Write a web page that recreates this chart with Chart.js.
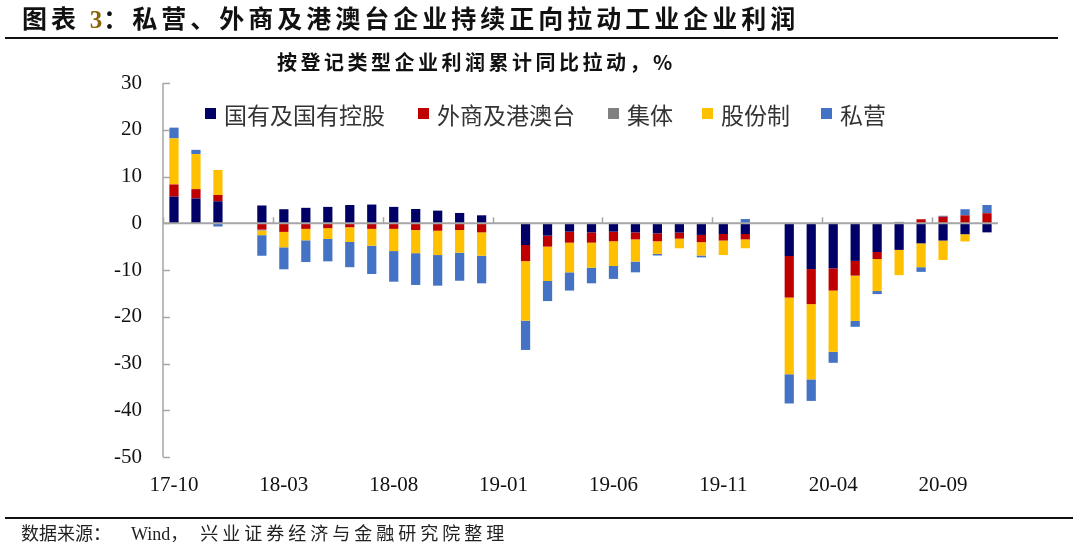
<!DOCTYPE html>
<html>
<head>
<meta charset="utf-8">
<script src="https://cdn.jsdelivr.net/npm/chart.js@4.4.1/dist/chart.umd.min.js"></script>
<style>
  html, body { margin: 0; padding: 0; background: #fff; }
  #wrap { position: relative; width: 1080px; height: 549px; overflow: hidden; background: #fff; }
  #c { position: absolute; left: 0; top: 0; }
  .abs { position: absolute; white-space: nowrap; }
  #title { left: 22px; top: 1px; font-family: "Noto Sans CJK SC", sans-serif; font-weight: 700; font-size: 25px; letter-spacing: 4px; color: #111; line-height: 32px; }
  #title .num { font-family: "Liberation Serif", serif; color: #8B6508; letter-spacing: 1px; }
  #tline { left: 5px; top: 37px; width: 1053px; height: 2px; background: #111; }
  #sub { left: 277px; top: 49px; font-family: "Noto Sans CJK SC", sans-serif; font-weight: 700; font-size: 20px; letter-spacing: 3.5px; color: #111; line-height: 26px; }
  #bline { left: 5px; top: 517px; width: 1068px; height: 2px; background: #111; }
  #foot { left: 21px; top: 519px; font-family: "Liberation Serif", "Noto Sans CJK SC", serif; font-size: 18px; color: #222; line-height: 26px; }
  #foot .cn1 { font-family: "Noto Sans CJK SC", sans-serif; }
  #foot .cn2 { font-family: "Noto Sans CJK SC", sans-serif; letter-spacing: 4px; }
  .lg { position: absolute; top: 100px; height: 28px; font-family: "Noto Sans CJK SC", sans-serif; font-size: 23px; color: #333; line-height: 28px; white-space: nowrap; }
  .sq { position: absolute; width: 11px; height: 11px; top: 8px; }
</style>
</head>
<body>
<div id="wrap">
  <canvas id="c" width="1080" height="549"></canvas>
  <div id="title" class="abs">图表 <span class="num">3</span>：私营、外商及港澳台企业持续正向拉动工业企业利润</div>
  <div id="tline" class="abs"></div>
  <div id="sub" class="abs">按登记类型企业利润累计同比拉动，%</div>
  <div id="legend"></div>
  <div id="bline" class="abs"></div>
  <div id="foot" class="abs"><span class="cn1">数据来源：</span><span style="margin-left:20px">Wind</span><span class="cn1">，</span><span class="cn2" style="margin-left:12px">兴业证券经济与金融研究院整理</span></div>
</div>
<script>
// ---- Data ----
const categories = [
  '17-10','17-11','17-12',
  '18-01','18-02','18-03','18-04','18-05','18-06','18-07','18-08','18-09','18-10','18-11','18-12',
  '19-01','19-02','19-03','19-04','19-05','19-06','19-07','19-08','19-09','19-10','19-11','19-12',
  '20-01','20-02','20-03','20-04','20-05','20-06','20-07','20-08','20-09','20-10','20-11'
];
const xTickLabels = ['17-10','18-03','18-08','19-01','19-06','19-11','20-04','20-09'];
const yTickValues = [30, 20, 10, 0, -10, -20, -30, -40, -50];

const seriesNames = ['国有及国有控股', '外商及港澳台', '集体', '股份制', '私营'];

const stateOwned = [5.7,5.3,4.7, null,3.8,3.0,3.3,3.5,3.9,4.0,3.5,3.05,2.7,2.2,1.7,
  null,-4.65,-2.65,-1.8,-1.95,-1.8,-1.95,-2.15,-2.0,-2.5,-2.3,-2.3,
  null,-7.0,-9.8,-9.65,-8.05,-6.15,-5.7,-4.3,-3.7,-2.35,-1.95];
const foreignHKMT = [2.6,2.0,1.35, null,-1.35,-1.85,-1.2,-1.05,-0.85,-1.2,-1.2,-1.45,-1.6,-1.45,-1.95,
  null,-3.45,-2.35,-2.35,-2.2,-2.05,-1.5,-1.7,-1.3,-1.55,-1.4,-1.15,
  null,-8.9,-7.5,-4.75,-3.15,-1.5,0,0.85,1.4,1.7,2.15];
const collective = [0,0,0, null,-0.2,0,0,0,0,0,0,0,0,0,0,
  null,0,0,0,0,0,0,0,0,0,0,0,
  null,0,0,0,0,0,0.3,0,0,0,0];
const jointStock = [9.85,7.5,5.35, null,-1.0,-3.3,-2.45,-2.3,-3.15,-3.6,-4.75,-4.95,-5.2,-4.85,-5.0,
  null,-12.75,-7.35,-6.35,-5.35,-5.3,-4.75,-2.7,-2.05,-2.85,-3.1,-1.9,
  null,-16.4,-16.1,-13.1,-9.7,-6.85,-5.4,-5.1,-4.15,-1.55,0];
const privateEnt = [2.3,0.9,-0.7, null,-4.4,-4.7,-4.65,-4.8,-5.4,-6.05,-6.55,-6.8,-6.55,-6.0,-5.9,
  null,-6.25,-4.3,-3.9,-3.35,-2.75,-2.3,-0.35,0,-0.4,0,0.9,
  null,-6.25,-4.6,-2.35,-1.25,-0.65,0,-1.0,0.2,1.3,1.75];

const colors = ['#000066', '#C00000', '#808080', '#FFC000', '#4472C4'];
const seriesData = [stateOwned, foreignHKMT, collective, jointStock, privateEnt];

// ---- Legend (HTML) ----
const legendX = [205, 418, 608, 702, 821];
const legendEl = document.getElementById('legend');
seriesNames.forEach((n, i) => {
  const d = document.createElement('div');
  d.className = 'lg';
  d.style.left = legendX[i] + 'px';
  d.innerHTML = '<span class="sq" style="left:0;background:' + colors[i] + '"></span><span style="margin-left:19px">' + n + '</span>';
  legendEl.appendChild(d);
});

// ---- Chart ----
const AXIS = '#A6A6A6';
const axisPlugin = {
  id: 'axisPlugin',
  afterDatasetsDraw(chart) {
    const ctx = chart.ctx;
    const xs = chart.scales.x, ys = chart.scales.y;
    const y0 = ys.getPixelForValue(0);
    const left = chart.chartArea.left, right = chart.chartArea.right;
    ctx.save();
    ctx.strokeStyle = AXIS;
    ctx.lineWidth = 2;
    ctx.beginPath(); ctx.moveTo(left, y0); ctx.lineTo(right, y0); ctx.stroke();
    ctx.lineWidth = 1.5;
    ctx.beginPath(); ctx.moveTo(left, ys.getPixelForValue(30)); ctx.lineTo(left, ys.getPixelForValue(-50)); ctx.stroke();
    yTickValues.forEach(v => {
      const py = Math.round(ys.getPixelForValue(v)) + 0.5;
      ctx.beginPath(); ctx.moveTo(left, py); ctx.lineTo(left + 7, py); ctx.stroke();
    });
    const step = xs.getPixelForValue(1) - xs.getPixelForValue(0);
    for (let i = 0; i < categories.length; i += 5) {
      const px = Math.round(xs.getPixelForValue(i) - step / 2) + 0.5;
      ctx.beginPath(); ctx.moveTo(px, y0); ctx.lineTo(px, y0 - 6); ctx.stroke();
    }
    ctx.restore();
  }
};

new Chart(document.getElementById('c'), {
  type: 'bar',
  data: {
    labels: categories,
    datasets: seriesNames.map((n, i) => ({
      label: n,
      data: seriesData[i],
      backgroundColor: colors[i],
      borderWidth: 0,
      categoryPercentage: 1.0,
      barPercentage: 0.42
    }))
  },
  options: {
    responsive: false,
    animation: false,
    devicePixelRatio: 1,
    layout: { padding: { left: 0, right: 82, top: 83, bottom: 52 } },
    plugins: { legend: { display: false }, tooltip: { enabled: false } },
    scales: {
      x: {
        stacked: true,
        grid: { display: false, drawTicks: false },
        border: { display: false },
        afterFit(scale) { scale.height = 40; },
        ticks: {
          autoSkip: false, maxRotation: 0, minRotation: 0, padding: 16,
          color: '#111',
          font: { family: 'Liberation Serif', size: 21 },
          callback(v, idx) { const l = categories[idx]; return xTickLabels.includes(l) ? l : ''; }
        }
      },
      y: {
        stacked: true,
        min: -50, max: 30,
        grid: { display: false, drawTicks: false },
        border: { display: false },
        afterFit(scale) { scale.width = 163; },
        ticks: {
          stepSize: 10, padding: 21, color: '#111',
          font: { family: 'Liberation Serif', size: 21 }
        }
      }
    }
  },
  plugins: [axisPlugin]
});
</script>
</body>
</html>
